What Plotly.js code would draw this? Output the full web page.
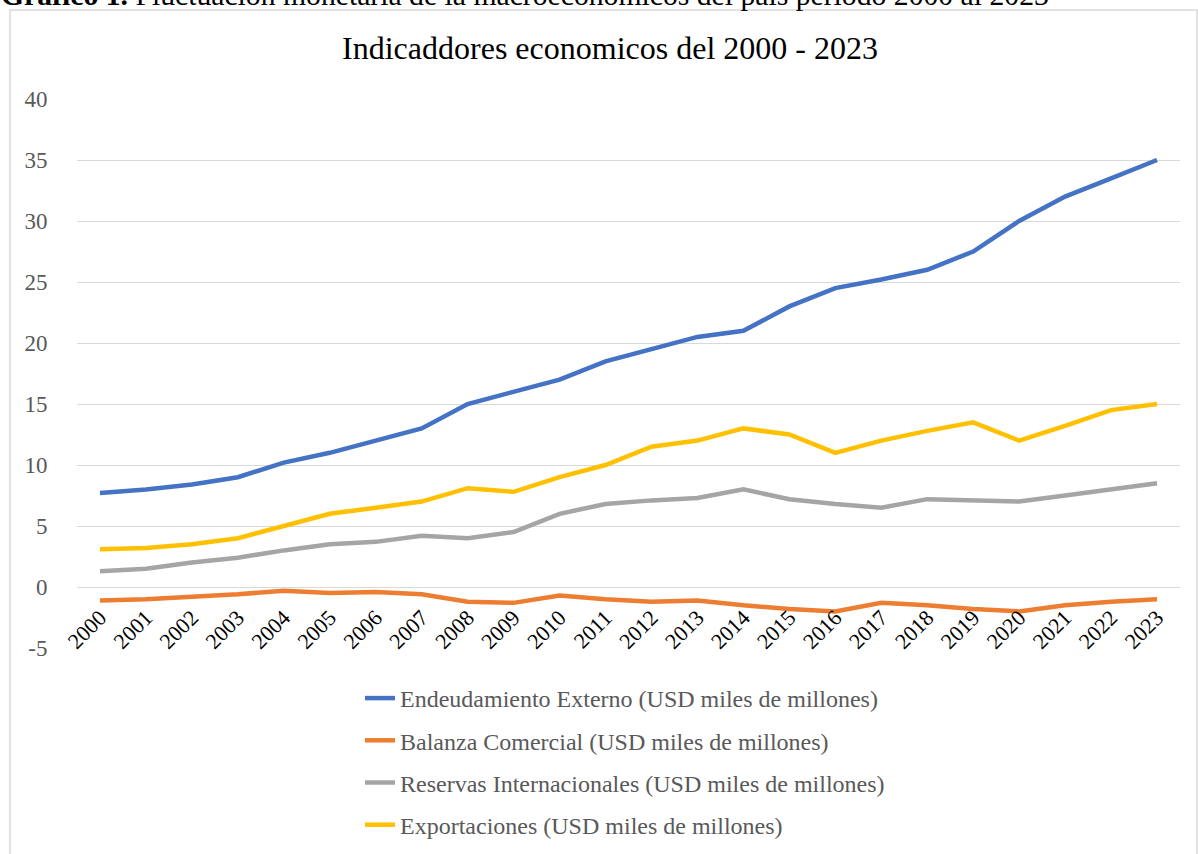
<!DOCTYPE html>
<html>
<head>
<meta charset="utf-8">
<script src="https://cdn.plot.ly/plotly-3.0.1.min.js"></script>
<style>
html,body{margin:0;padding:0;background:#fff;}
#chart{width:1198px;height:854px;}
</style>
</head>
<body>
<div id="chart"></div>
<script>
const years = ['2000','2001','2002','2003','2004','2005','2006','2007','2008','2009','2010','2011','2012','2013','2014','2015','2016','2017','2018','2019','2020','2021','2022','2023'];
const endeudamiento = [7.7,8.0,8.4,9.0,10.2,11.0,12.0,13.0,15.0,16.0,17.0,18.5,19.5,20.5,21.0,23.0,24.5,25.2,26.0,27.5,30.0,32.0,33.5,35.0];
const balanza = [-1.1,-1.0,-0.8,-0.6,-0.3,-0.5,-0.4,-0.6,-1.2,-1.3,-0.7,-1.0,-1.2,-1.1,-1.5,-1.8,-2.0,-1.3,-1.5,-1.8,-2.0,-1.5,-1.2,-1.0];
const reservas = [1.3,1.5,2.0,2.4,3.0,3.5,3.7,4.2,4.0,4.5,6.0,6.8,7.1,7.3,8.0,7.2,6.8,6.5,7.2,7.1,7.0,7.5,8.0,8.5];
const exportaciones = [3.1,3.2,3.5,4.0,5.0,6.0,6.5,7.0,8.1,7.8,9.0,10.0,11.5,12.0,13.0,12.5,11.0,12.0,12.8,13.5,12.0,13.2,14.5,15.0];
const seriesNames = [
  'Endeudamiento Externo (USD miles de millones)',
  'Balanza Comercial (USD miles de millones)',
  'Reservas Internacionales (USD miles de millones)',
  'Exportaciones (USD miles de millones)'
];
const yTicks = [-5,0,5,10,15,20,25,30,35,40];
const chartTitle = 'Indicaddores economicos del 2000 - 2023';
const caption = '<b>Gráfico 1.</b> Fluctuación monetaria de la macroeconómicos del país período 2000 al 2023';

const colors = ['#4472C4','#ED7D31','#A5A5A5','#FFC000'];
const vals = [endeudamiento, balanza, reservas, exportaciones];
const FONT = "'Liberation Serif', 'Times New Roman', serif";

const traces = vals.map((v,i)=>({
  type:'scatter', mode:'lines', x: years, y: v, name: seriesNames[i],
  legendgroup: 'g'+i,
  line:{color:colors[i], width:4.5, shape:'linear'},
  hoverinfo:'x+y+name'
}));

// plot area: x 77..1180, y 99..648
const L=77, R=18, T=99, B=206, W=1198, H=854;
const pw = W-L-R, ph = H-T-B;
const px = v => (v-L)/pw;
const py = v => (H-B-v)/ph;

const layout = {
  width: W, height: H,
  margin:{l:L, r:R, t:T, b:B, pad:0, autoexpand:false},
  paper_bgcolor:'#fff', plot_bgcolor:'#fff',
  font:{family:FONT, color:'#595959'},
  showlegend:true,
  title:{text: chartTitle, font:{family:FONT, size:32, color:'#000'}, x: px(610), xanchor:'center', xref:'paper', y: 1-(48/H), yanchor:'middle'},
  xaxis:{
    type:'category', categoryorder:'array', categoryarray: years,
    range:[-0.5, years.length-0.5],
    anchor:'free', position: 5/45,
    showgrid:false, zeroline:false, showline:false,
    ticks:'outside', ticklen:8, tickcolor:'rgba(0,0,0,0)',
    tickangle:-45,
    tickfont:{family:FONT, size:22, color:'#000'}
  },
  yaxis:{
    range:[-5,40], tickvals: yTicks, ticktext: yTicks.map(String),
    showgrid:true, gridcolor:'#d9d9d9', gridwidth:1.3,
    zeroline:true, zerolinecolor:'#d9d9d9', zerolinewidth:1.3,
    showline:false,
    ticks:'outside', ticklen:24, tickcolor:'rgba(0,0,0,0)',
    tickfont:{family:FONT, size:23, color:'#595959'}
  },
  legend:{
    orientation:'v', x: px(360), xanchor:'left', y: py(676), yanchor:'top',
    font:{family:FONT, size:24, color:'#595959'},
    traceorder:'grouped', tracegroupgap: 8,
    bgcolor:'rgba(0,0,0,0)', borderwidth:0
  },
  shapes:[
    {type:'rect', xref:'paper', yref:'paper', x0: px(10), x1: px(1197), y0: py(870), y1: py(10),
     line:{color:'#d9d9d9', width:1.5}, fillcolor:'rgba(0,0,0,0)', layer:'below'}
  ],
  annotations:[
    {text: caption, xref:'paper', yref:'paper', x: px(0), xanchor:'left', y: py(12), yanchor:'bottom',
     showarrow:false, font:{family:FONT, size:29.7, color:'#000'}, borderpad:0}
  ]
};

Plotly.newPlot('chart', traces, layout, {displayModeBar:false, responsive:false});
</script>
</body>
</html>
